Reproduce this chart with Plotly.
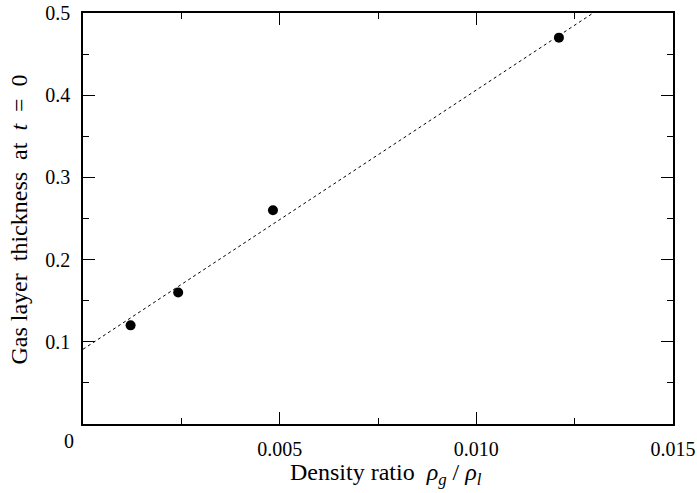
import plotly.graph_objects as go

# Data
density_ratio = [0.00121, 0.00242, 0.00483, 0.0121]
gas_thickness = [0.12, 0.16, 0.26, 0.47]
fit_x = [0.0, 0.0150]
fit_y = [0.0909, 0.0909 + 31.54 * 0.0150]

x_tickvals = [0.005, 0.010, 0.015]
x_ticktext = ["0.005", "0.010", "0.015"]
y_tickvals = [0.1, 0.2, 0.3, 0.4, 0.5]
y_ticktext = ["0.1", "0.2", "0.3", "0.4", "0.5"]

x_title = "Density ratio  <i>ρ<sub>g</sub></i> / <i>ρ<sub>l</sub></i>"
y_title = "Gas layer  thickness  at  <i>t</i>  =  0"

FONT = "Liberation Serif"
W, H = 697, 493
ML, MR, MT, MB = 82.5, 24.3, 13, 69
PW, PH = W - ML - MR, H - MT - MB


def px(x):
    return (x - ML) / PW


def py(y):
    return (H - MB - y) / PH


fig = go.Figure()
fig.add_trace(go.Scatter(x=fit_x, y=fit_y, mode="lines",
                         line=dict(color="black", width=1, dash="3px,3px"),
                         showlegend=False, hoverinfo="skip"))
fig.add_trace(go.Scatter(x=density_ratio, y=gas_thickness, mode="markers",
                         marker=dict(color="black", size=10),
                         showlegend=False))

fig.update_layout(
    width=W, height=H,
    margin=dict(l=ML, r=MR, t=MT, b=MB),
    plot_bgcolor="white", paper_bgcolor="white",
    font=dict(family=FONT, size=20, color="black"),
    xaxis=dict(range=[0, 0.015], tickvals=x_tickvals, ticktext=x_ticktext,
               ticks="inside", ticklen=12, tickwidth=1, tickcolor="black",
               showline=True, linecolor="black", linewidth=1.5, mirror="ticks",
               showgrid=False, zeroline=False, ticklabelstandoff=6,
               automargin=False,
               minor=dict(dtick=0.0025, tick0=0, ticks="inside", ticklen=6,
                          tickcolor="black", showgrid=False)),
    yaxis=dict(range=[0, 0.5], tickvals=y_tickvals, ticktext=y_ticktext,
               ticks="inside", ticklen=12, tickwidth=1, tickcolor="black",
               showline=True, linecolor="black", linewidth=1.5, mirror="ticks",
               showgrid=False, zeroline=False, ticklabelstandoff=7,
               automargin=False,
               minor=dict(dtick=0.05, tick0=0, ticks="inside", ticklen=6,
                          tickcolor="black", showgrid=False)),
    annotations=[
        dict(text="0", x=px(68), y=py(441), xref="paper", yref="paper",
             xanchor="center", yanchor="middle", showarrow=False,
             font=dict(size=20)),
        dict(text=x_title, x=px(386), y=py(474), xref="paper", yref="paper",
             xanchor="center", yanchor="middle", showarrow=False,
             font=dict(size=24)),
        dict(text=y_title, x=px(18), y=py(220), xref="paper", yref="paper",
             xanchor="center", yanchor="middle", showarrow=False,
             textangle=-90, font=dict(size=24)),
    ],
)

fig.write_html("out.html")
